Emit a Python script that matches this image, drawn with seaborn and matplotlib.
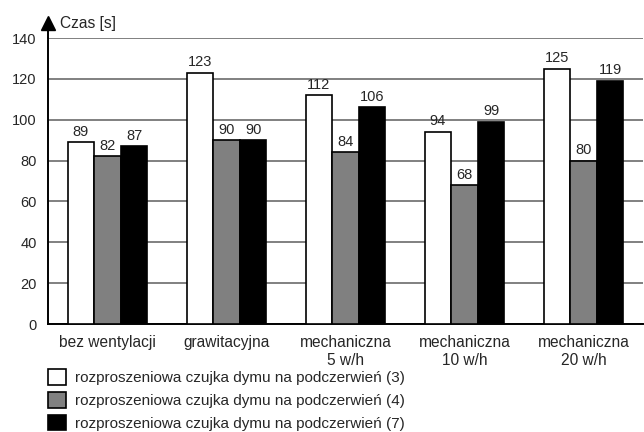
import matplotlib
matplotlib.use("Agg")
import matplotlib.pyplot as plt
from matplotlib.patches import Patch
import seaborn as sns
import pandas as pd

categories = ["bez wentylacji", "grawitacyjna", "mechaniczna\n5 w/h",
              "mechaniczna\n10 w/h", "mechaniczna\n20 w/h"]
series_names = ["rozproszeniowa czujka dymu na podczerwień (3)",
                "rozproszeniowa czujka dymu na podczerwień (4)",
                "rozproszeniowa czujka dymu na podczerwień (7)"]
values_3 = [89, 123, 112, 94, 125]
values_4 = [82, 90, 84, 68, 80]
values_7 = [87, 90, 106, 99, 119]
yticks = [0, 20, 40, 60, 80, 100, 120, 140]
colors = ["white", "#808080", "black"]

rows = []
for name, vals in zip(series_names, [values_3, values_4, values_7]):
    for cat, v in zip(categories, vals):
        rows.append({"kategoria": cat, "seria": name, "czas": v})
df = pd.DataFrame(rows)

sns.set_style("white")
plt.rcParams["font.family"] = ["Liberation Sans", "DejaVu Sans"]
FS_TEXT = 11.2
FS_NUM = 10.5
plt.rcParams["font.size"] = FS_TEXT

fig = plt.figure(figsize=(6.44, 4.32), dpi=100)
ax = fig.add_axes([48 / 644, 1 - 324 / 432, 1 - 48 / 644 - 1 / 644, (324 - 38) / 432])

sns.barplot(data=df, x="kategoria", y="czas", hue="seria", palette=colors,
            order=categories, hue_order=series_names, width=0.67,
            edgecolor="black", linewidth=1.2, saturation=1, ax=ax, legend=False,
            zorder=3)

for cont in ax.containers:
    ax.bar_label(cont, padding=2.5, fontsize=FS_NUM)

ax.set_ylim(0, 140)
ax.set_xlim(-0.5, len(categories) - 0.5)
ax.set_yticks(yticks)
ax.yaxis.grid(True, color="#808080", linewidth=1.4, zorder=0)
ax.set_axisbelow(True)
ax.set_xlabel("")
ax.set_ylabel("")

for s in ["top", "right"]:
    ax.spines[s].set_visible(False)
for s in ["left", "bottom"]:
    ax.spines[s].set_color("black")
    ax.spines[s].set_linewidth(1.4)

# tick marks between categories, labels centred under groups
ax.set_xticks(range(len(categories)))
ax.set_xticklabels(categories, fontsize=FS_TEXT, linespacing=1.2)
ax.set_xticks([i - 0.5 for i in range(len(categories) + 1)], minor=True)
ax.tick_params(axis="x", which="major", length=0, pad=8)
ax.tick_params(axis="x", which="minor", length=5, width=1.2, color="black", direction="out")
ax.tick_params(axis="y", length=3.6, width=1.2, color="black", direction="out",
               labelsize=FS_NUM, pad=4.5)

# arrow-headed value axis with its title
ax.plot([0, 0], [1, 1.06], transform=ax.transAxes, color="black", lw=1.4, clip_on=False)
ax.plot([0], [1.053], transform=ax.transAxes, marker="^", color="black", ms=10, clip_on=False)
ax.text(0.02, 1.05, "Czas [s]", transform=ax.transAxes, va="center", ha="left",
        fontsize=FS_TEXT)

handles = [Patch(facecolor=c, edgecolor="black", linewidth=1.2) for c in colors]
fig.legend(handles, series_names, loc="upper left", bbox_to_anchor=(48 / 644, 1 - 369 / 432),
           frameon=False, fontsize=11, handlelength=1.18, handleheight=1.2,
           handletextpad=0.6, labelspacing=0.45, borderaxespad=0, borderpad=0)

fig.savefig("out.png", dpi=100)
